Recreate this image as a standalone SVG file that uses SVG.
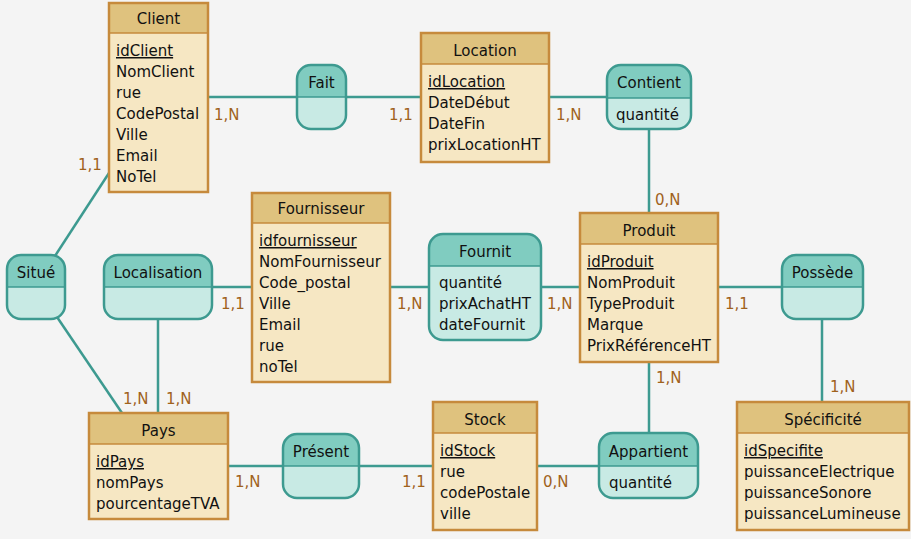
<svg xmlns="http://www.w3.org/2000/svg" width="911" height="539" viewBox="0 0 911 539">
<style>
text{font-family:"DejaVu Sans",Verdana,sans-serif;font-size:15px;fill:#111}
.t{text-anchor:middle}
.u{text-decoration:underline}
.eh{fill:#DFC27E}
.eb{fill:#F6E7C3}
.eo{fill:none;stroke:#C68A3C;stroke-width:2.5}
.ed{stroke:#C68A3C;stroke-width:1.5}
.rh{fill:#80CCC0}
.rb{fill:#C8EAE4}
.ro{fill:none;stroke:#3D9A90;stroke-width:2.5}
.rd{stroke:#3D9A90;stroke-width:1.5}
.c{stroke:#3D9A90;stroke-width:2.5;fill:none}
.l{font-size:15px;fill:#A0621C}
</style>
<rect width="911" height="539" fill="#F4F4F4"/>
<g id="connectors">
<line class="c" x1="208" y1="97" x2="297" y2="97"/>
<line class="c" x1="346" y1="97" x2="421" y2="97"/>
<line class="c" x1="549" y1="97" x2="607" y2="97"/>
<line class="c" x1="649" y1="129" x2="649" y2="213"/>
<line class="c" x1="390" y1="287" x2="429" y2="287"/>
<line class="c" x1="541" y1="287" x2="580" y2="287"/>
<line class="c" x1="718" y1="287" x2="782" y2="287"/>
<line class="c" x1="822" y1="319" x2="822" y2="402"/>
<line class="c" x1="649" y1="362" x2="649" y2="433"/>
<line class="c" x1="212" y1="287" x2="252" y2="287"/>
<line class="c" x1="158" y1="319" x2="158" y2="413"/>
<line class="c" x1="55" y1="256" x2="109" y2="173"/>
<line class="c" x1="57" y1="317" x2="122" y2="413"/>
<line class="c" x1="228" y1="466" x2="283" y2="466"/>
<line class="c" x1="359" y1="466" x2="433" y2="466"/>
<line class="c" x1="537" y1="466" x2="599" y2="466"/>
<text class="l" x="214" y="120">1,N</text>
<text class="l" x="78" y="170">1,1</text>
<text class="l" x="389" y="120">1,1</text>
<text class="l" x="556" y="120">1,N</text>
<text class="l" x="655" y="205">0,N</text>
<text class="l" x="221" y="309">1,1</text>
<text class="l" x="397" y="309">1,N</text>
<text class="l" x="547" y="309">1,N</text>
<text class="l" x="725" y="309">1,1</text>
<text class="l" x="656" y="383">1,N</text>
<text class="l" x="830" y="392">1,N</text>
<text class="l" x="123" y="404">1,N</text>
<text class="l" x="166" y="404">1,N</text>
<text class="l" x="235" y="487">1,N</text>
<text class="l" x="402" y="487">1,1</text>
<text class="l" x="543" y="487">0,N</text>
</g>
<g id="Client">
<rect class="eb" x="109" y="3" width="99" height="189"/>
<rect class="eh" x="109" y="3" width="99" height="30"/>
<line class="ed" x1="109" y1="33" x2="208" y2="33"/>
<rect class="eo" x="109" y="3" width="99" height="189"/>
<text class="t" x="158.5" y="24">Client</text>
<text class="u" x="116" y="56">idClient</text>
<text x="116" y="77">NomClient</text>
<text x="116" y="98">rue</text>
<text x="116" y="119">CodePostal</text>
<text x="116" y="140">Ville</text>
<text x="116" y="161">Email</text>
<text x="116" y="182">NoTel</text>
</g>
<g id="Fait">
<path class="rh" d="M297,97 V79 a14,14 0 0 1 14,-14 h21 a14,14 0 0 1 14,14 V97 Z"/>
<path class="rb" d="M297,97 V115 a14,14 0 0 0 14,14 h21 a14,14 0 0 0 14,-14 V97 Z"/>
<line class="rd" x1="297" y1="97" x2="346" y2="97"/>
<rect class="ro" x="297" y="65" width="49" height="64" rx="14"/>
<text class="t" x="321.5" y="88">Fait</text>
</g>
<g id="Location">
<rect class="eb" x="421" y="33" width="128" height="129"/>
<rect class="eh" x="421" y="33" width="128" height="31"/>
<line class="ed" x1="421" y1="64" x2="549" y2="64"/>
<rect class="eo" x="421" y="33" width="128" height="129"/>
<text class="t" x="485" y="56">Location</text>
<text class="u" x="428" y="87">idLocation</text>
<text x="428" y="108">DateDébut</text>
<text x="428" y="129">DateFin</text>
<text x="428" y="150">prixLocationHT</text>
</g>
<g id="Contient">
<path class="rh" d="M607,98 V79 a14,14 0 0 1 14,-14 h56 a14,14 0 0 1 14,14 V98 Z"/>
<path class="rb" d="M607,98 V115 a14,14 0 0 0 14,14 h56 a14,14 0 0 0 14,-14 V98 Z"/>
<line class="rd" x1="607" y1="98" x2="691" y2="98"/>
<rect class="ro" x="607" y="65" width="84" height="64" rx="14"/>
<text class="t" x="649" y="88">Contient</text>
<text x="616" y="120">quantité</text>
</g>
<g id="Produit">
<rect class="eb" x="580" y="213" width="138" height="149"/>
<rect class="eh" x="580" y="213" width="138" height="31"/>
<line class="ed" x1="580" y1="244" x2="718" y2="244"/>
<rect class="eo" x="580" y="213" width="138" height="149"/>
<text class="t" x="649" y="236">Produit</text>
<text class="u" x="587" y="267">idProduit</text>
<text x="587" y="288">NomProduit</text>
<text x="587" y="309">TypeProduit</text>
<text x="587" y="330">Marque</text>
<text x="587" y="351">PrixRéférenceHT</text>
</g>
<g id="Fournit">
<path class="rh" d="M429,266 V248 a14,14 0 0 1 14,-14 h84 a14,14 0 0 1 14,14 V266 Z"/>
<path class="rb" d="M429,266 V326 a14,14 0 0 0 14,14 h84 a14,14 0 0 0 14,-14 V266 Z"/>
<line class="rd" x1="429" y1="266" x2="541" y2="266"/>
<rect class="ro" x="429" y="234" width="112" height="106" rx="14"/>
<text class="t" x="485" y="257">Fournit</text>
<text x="439" y="288">quantité</text>
<text x="439" y="309">prixAchatHT</text>
<text x="439" y="330">dateFournit</text>
</g>
<g id="Fournisseur">
<rect class="eb" x="252" y="193" width="138" height="189"/>
<rect class="eh" x="252" y="193" width="138" height="30"/>
<line class="ed" x1="252" y1="223" x2="390" y2="223"/>
<rect class="eo" x="252" y="193" width="138" height="189"/>
<text class="t" x="321" y="214">Fournisseur</text>
<text class="u" x="259" y="246">idfournisseur</text>
<text x="259" y="267">NomFournisseur</text>
<text x="259" y="288">Code_postal</text>
<text x="259" y="309">Ville</text>
<text x="259" y="330">Email</text>
<text x="259" y="351">rue</text>
<text x="259" y="372">noTel</text>
</g>
<g id="Possede">
<path class="rh" d="M782,287 V269 a14,14 0 0 1 14,-14 h53 a14,14 0 0 1 14,14 V287 Z"/>
<path class="rb" d="M782,287 V305 a14,14 0 0 0 14,14 h53 a14,14 0 0 0 14,-14 V287 Z"/>
<line class="rd" x1="782" y1="287" x2="863" y2="287"/>
<rect class="ro" x="782" y="255" width="81" height="64" rx="14"/>
<text class="t" x="822.5" y="278">Possède</text>
</g>
<g id="Situe">
<path class="rh" d="M7,287 V269 a14,14 0 0 1 14,-14 h30 a14,14 0 0 1 14,14 V287 Z"/>
<path class="rb" d="M7,287 V305 a14,14 0 0 0 14,14 h30 a14,14 0 0 0 14,-14 V287 Z"/>
<line class="rd" x1="7" y1="287" x2="65" y2="287"/>
<rect class="ro" x="7" y="255" width="58" height="64" rx="14"/>
<text class="t" x="36" y="278">Situé</text>
</g>
<g id="Localisation">
<path class="rh" d="M104,287 V269 a14,14 0 0 1 14,-14 h80 a14,14 0 0 1 14,14 V287 Z"/>
<path class="rb" d="M104,287 V305 a14,14 0 0 0 14,14 h80 a14,14 0 0 0 14,-14 V287 Z"/>
<line class="rd" x1="104" y1="287" x2="212" y2="287"/>
<rect class="ro" x="104" y="255" width="108" height="64" rx="14"/>
<text class="t" x="158" y="278">Localisation</text>
</g>
<g id="Pays">
<rect class="eb" x="89" y="413" width="139" height="106"/>
<rect class="eh" x="89" y="413" width="139" height="31"/>
<line class="ed" x1="89" y1="444" x2="228" y2="444"/>
<rect class="eo" x="89" y="413" width="139" height="106"/>
<text class="t" x="158.5" y="436">Pays</text>
<text class="u" x="96" y="467">idPays</text>
<text x="96" y="488">nomPays</text>
<text x="96" y="509">pourcentageTVA</text>
</g>
<g id="Present">
<path class="rh" d="M283,466 V448 a14,14 0 0 1 14,-14 h48 a14,14 0 0 1 14,14 V466 Z"/>
<path class="rb" d="M283,466 V484 a14,14 0 0 0 14,14 h48 a14,14 0 0 0 14,-14 V466 Z"/>
<line class="rd" x1="283" y1="466" x2="359" y2="466"/>
<rect class="ro" x="283" y="434" width="76" height="64" rx="14"/>
<text class="t" x="321" y="457">Présent</text>
</g>
<g id="Stock">
<rect class="eb" x="433" y="402" width="104" height="128"/>
<rect class="eh" x="433" y="402" width="104" height="31"/>
<line class="ed" x1="433" y1="433" x2="537" y2="433"/>
<rect class="eo" x="433" y="402" width="104" height="128"/>
<text class="t" x="485" y="425">Stock</text>
<text class="u" x="440" y="456">idStock</text>
<text x="440" y="477">rue</text>
<text x="440" y="498">codePostale</text>
<text x="440" y="519">ville</text>
</g>
<g id="Appartient">
<path class="rh" d="M599,466 V447 a14,14 0 0 1 14,-14 h71 a14,14 0 0 1 14,14 V466 Z"/>
<path class="rb" d="M599,466 V484 a14,14 0 0 0 14,14 h71 a14,14 0 0 0 14,-14 V466 Z"/>
<line class="rd" x1="599" y1="466" x2="698" y2="466"/>
<rect class="ro" x="599" y="433" width="99" height="65" rx="14"/>
<text class="t" x="648.5" y="457">Appartient</text>
<text x="609" y="488">quantité</text>
</g>
<g id="Specificite">
<rect class="eb" x="737" y="402" width="172" height="128"/>
<rect class="eh" x="737" y="402" width="172" height="31"/>
<line class="ed" x1="737" y1="433" x2="909" y2="433"/>
<rect class="eo" x="737" y="402" width="172" height="128"/>
<text class="t" x="823" y="425">Spécificité</text>
<text class="u" x="744" y="456">idSpecifite</text>
<text x="744" y="477">puissanceElectrique</text>
<text x="744" y="498">puissanceSonore</text>
<text x="744" y="519">puissanceLumineuse</text>
</g>
</svg>
